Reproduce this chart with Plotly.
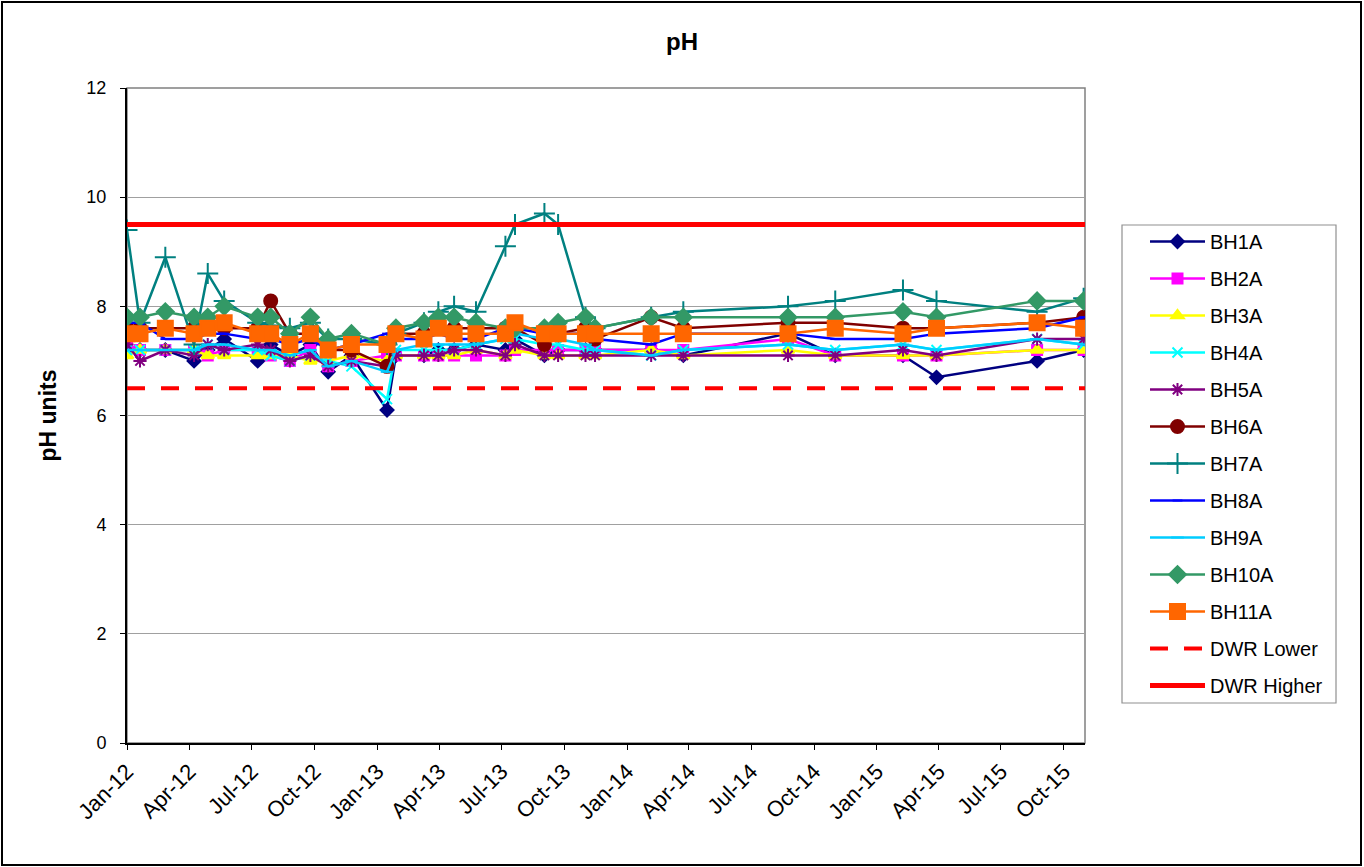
import plotly.graph_objects as go

# Sampling dates
dates = ["2012-01-01", "2012-01-20", "2012-02-26", "2012-04-08", "2012-04-28", "2012-05-22",
         "2012-07-10", "2012-07-29", "2012-08-26", "2012-09-25", "2012-10-21", "2012-11-24",
         "2013-01-15", "2013-01-28", "2013-03-10", "2013-03-31", "2013-04-23", "2013-05-25",
         "2013-07-07", "2013-07-21", "2013-09-02", "2013-09-22", "2013-11-01", "2013-11-15",
         "2014-02-05", "2014-03-24", "2014-08-24", "2014-11-01", "2015-02-08", "2015-03-29",
         "2015-08-23", "2015-10-30"]

bh1a = [7.2, 7.2, 7.2, 7.0, 7.2, 7.4, 7.0, 7.3, 7.1, 7.3, 6.8, 7.1, 6.1, 7.1, 7.1, 7.2,
        7.2, 7.3, 7.2, 7.4, 7.1, 7.2, 7.2, 7.2, 7.2, 7.1, 7.5, 7.1, 7.1, 6.7, 7.0, 7.2]
bh2a = [7.3, 7.2, 7.2, 7.2, 7.1, 7.2, 7.2, 7.1, 7.0, 7.2, 6.9, 7.0, 7.1, 7.1, 7.1, 7.1,
        7.1, 7.1, 7.1, 7.2, 7.2, 7.2, 7.2, 7.2, 7.2, 7.2, 7.4, 7.1, 7.1, 7.1, 7.2, 7.2]
bh3a = [7.1, 7.2, 7.2, 7.2, 7.1, 7.1, 7.1, 7.1, 7.1, 7.0, 7.0, 7.1, 7.0, 7.1, 7.1, 7.1,
        7.1, 7.2, 7.1, 7.2, 7.1, 7.1, 7.1, 7.1, 7.2, 7.1, 7.2, 7.1, 7.1, 7.1, 7.2, 7.2]
bh4a = [7.2, 7.2, 7.2, 7.2, 7.3, 7.2, 7.2, 7.1, 7.0, 7.1, 7.0, 6.9, 6.3, 7.2, 7.2, 7.2,
        7.2, 7.3, 7.4, 7.4, 7.3, 7.3, 7.2, 7.2, 7.1, 7.2, 7.3, 7.2, 7.3, 7.2, 7.4, 7.3]
bh5a = [7.3, 7.0, 7.2, 7.1, 7.3, 7.2, 7.3, 7.2, 7.0, 7.1, 6.9, 7.0, 6.9, 7.1, 7.1, 7.1,
        7.2, 7.2, 7.1, 7.3, 7.1, 7.1, 7.1, 7.1, 7.1, 7.1, 7.1, 7.1, 7.2, 7.1, 7.4, 7.4]
bh6a = [7.6, 7.6, 7.6, 7.6, 7.6, 7.6, 7.6, 8.1, 7.5, 7.5, 7.2, 7.2, 6.9, 7.5, 7.5, 7.6,
        7.6, 7.6, 7.6, 7.6, 7.3, 7.5, 7.6, 7.4, 7.8, 7.6, 7.7, 7.7, 7.6, 7.6, 7.7, 7.8]
bh7a = [9.4, 7.7, 8.9, 7.3, 8.6, 8.1, 7.7, 7.65, 7.6, 7.7, 7.4, 7.4, 7.3, 7.5, 7.7, 7.9,
        8.0, 7.9, 9.1, 9.5, 9.7, 9.5, 7.8, 7.6, 7.8, 7.9, 8.0, 8.1, 8.3, 8.1, 7.9, 8.15]
bh8a = [7.7, 7.7, 7.4, 7.4, 7.5, 7.5, 7.4, 7.4, 7.3, 7.4, 7.2, 7.3, 7.5, 7.4, 7.4, 7.5,
        7.4, 7.4, 7.6, 7.6, 7.5, 7.5, 7.5, 7.4, 7.3, 7.5, 7.5, 7.4, 7.4, 7.5, 7.6, 7.8]
bh9a = [7.2, 7.2, 7.2, 7.2, 7.3, 7.3, 7.2, 7.2, 7.1, 7.2, 6.9, 7.0, 6.8, 7.2, 7.3, 7.3,
        7.3, 7.3, 7.4, 7.5, 7.4, 7.4, 7.3, 7.2, 7.1, 7.2, 7.3, 7.2, 7.3, 7.2, 7.4, 7.3]
bh10a = [7.8, 7.8, 7.9, 7.8, 7.8, 8.0, 7.8, 7.8, 7.5, 7.8, 7.4, 7.5, 7.3, 7.6, 7.7, 7.8,
         7.8, 7.7, 7.6, 7.6, 7.6, 7.7, 7.8, 7.6, 7.8, 7.8, 7.8, 7.8, 7.9, 7.8, 8.1, 8.1]
bh11a = [7.5, 7.5, 7.6, 7.5, 7.6, 7.7, 7.5, 7.5, 7.3, 7.5, 7.2, 7.3, 7.3, 7.5, 7.4, 7.6,
         7.5, 7.5, 7.5, 7.7, 7.5, 7.5, 7.5, 7.5, 7.5, 7.5, 7.5, 7.6, 7.5, 7.6, 7.7, 7.6]

# Drinking water guideline limits
dwr_lower = 6.5
dwr_higher = 9.5
limit_span = ["2012-01-01", "2015-11-01"]

FONT = "Liberation Sans, Arial, sans-serif"

series = [
    ("BH1A", bh1a, "#000080", "diamond", 10),
    ("BH2A", bh2a, "#FF00FF", "square", 10),
    ("BH3A", bh3a, "#FFFF00", "triangle-up", 11),
    ("BH4A", bh4a, "#00FFFF", "x-thin-open", 10),
    ("BH5A", bh5a, "#800080", "asterisk-open", 11),
    ("BH6A", bh6a, "#800000", "circle", 13),
    ("BH7A", bh7a, "#008080", "cross-thin-open", 15),
    ("BH8A", bh8a, "#0000FF", "line-ew-open", 7),
    ("BH9A", bh9a, "#00CCFF", "line-ew-open", 9),
    ("BH10A", bh10a, "#339966", "diamond", 13),
    ("BH11A", bh11a, "#FF6600", "square", 15),
]

fig = go.Figure()
for name, vals, color, symbol, size in series:
    fig.add_trace(go.Scatter(
        x=dates, y=vals, name=name, mode="lines+markers", legendgroup=name,
        line=dict(color=color, width=2.5),
        marker=dict(symbol=symbol, size=size, color=color,
                    line=dict(color=color, width=2)),
    ))

fig.add_trace(go.Scatter(
    x=limit_span, y=[dwr_lower, dwr_lower], name="DWR Lower", mode="lines",
    legendgroup="lower", line=dict(color="#FF0000", width=4, dash="18px,16px"),
))
fig.add_trace(go.Scatter(
    x=limit_span, y=[dwr_higher, dwr_higher], name="DWR Higher", mode="lines",
    legendgroup="higher", line=dict(color="#FF0000", width=5),
))

W, H = 1364, 867
L, R, T, B = 127, 279, 88, 124
pw, ph = W - L - R, H - T - B


def px_x(p):
    return (p - L) / pw


def px_y(p):
    return (H - B - p) / ph


shapes = [
    # outer frame of the chart
    dict(type="rect", xref="paper", yref="paper", x0=px_x(2), x1=px_x(1361),
         y0=px_y(865), y1=px_y(2), line=dict(color="black", width=2), layer="below"),
    # plot area frame
    dict(type="rect", xref="paper", yref="paper", x0=0, x1=1, y0=0, y1=1,
         line=dict(color="#808080", width=1.5), layer="below"),
    # legend frame
    dict(type="rect", xref="paper", yref="paper", x0=px_x(1122), x1=px_x(1336),
         y0=px_y(703), y1=px_y(225), line=dict(color="#909090", width=1.2),
         layer="below"),
]

fig.update_layout(
    width=W, height=H,
    margin=dict(l=L, r=R, t=T, b=B),
    paper_bgcolor="white", plot_bgcolor="white",
    font=dict(family=FONT, color="black", size=18),
    title=dict(text="<b>pH</b>", x=px_x(682), xref="paper", xanchor="center",
               y=1 - 42 / H, yanchor="middle", font=dict(size=24)),
    showlegend=True,
    legend=dict(
        x=px_x(1145), y=px_y(222), xanchor="left", yanchor="top",
        borderwidth=0, bgcolor="rgba(0,0,0,0)",
        font=dict(size=20), traceorder="grouped", tracegroupgap=8,
        itemwidth=55,
    ),
    shapes=shapes,
)

fig.update_xaxes(
    type="date", range=["2012-01-01", "2015-11-01"],
    tick0="2012-01-01", dtick="M3", tickformat="%b-%y", tickangle=-45,
    showgrid=False, showline=True, linecolor="black", linewidth=2,
    ticks="outside", ticklen=5, tickcolor="black", zeroline=False,
    tickfont=dict(size=22),
)
fig.update_yaxes(
    range=[0, 12], dtick=2, showgrid=True, gridcolor="#A0A0A0", gridwidth=1,
    showline=True, linecolor="black", linewidth=2, ticks="outside", ticklen=5,
    tickcolor="black", zeroline=False, tickfont=dict(size=18),
    ticklabelstandoff=10,
    title=dict(text="<b>pH units</b>", font=dict(size=23), standoff=23),
)

fig.write_html("out.html")
